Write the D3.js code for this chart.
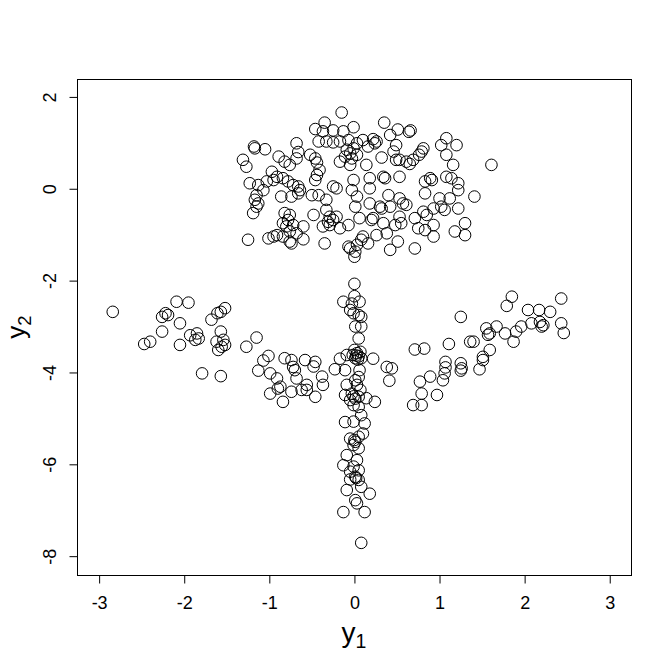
<!DOCTYPE html>
<html><head><meta charset="utf-8">
<script src="https://cdn.jsdelivr.net/npm/d3@7"></script>
<style>body{margin:0;background:#fff;} svg{display:block;}</style>
</head><body>
<script>
// ---- data ----
const topX = [-0.15,-0.35,-0.46,-0.37,-0.25,-0.13,-0.01,-0.42,-0.33,-0.25,-0.17,-0.07,0.03,-0.09,-0.01,-0.05,0.03,-0.11,-0.03,
 -1.18,-1.17,-1.05,-0.68,-0.66,-0.89,-0.82,-0.76,-0.68,-1.31,-1.27,-0.52,-0.46,-0.44,-0.41,-0.17,-0.05,-0.97,-0.91,-0.95,-1.03,
 -0.84,-0.78,-0.72,-0.66,-0.64,-0.44,-0.46,-0.25,-0.21,-0.01,-0.03,-1.23,-1.13,-1.07,-1.15,-1.17,-1.13,-1.15,-1.19,-0.86,-0.74,
 -0.66,-0.50,-0.42,-0.33,0.03,0.01,-0.82,-0.76,-0.78,-0.84,-0.72,-0.80,-0.76,-0.60,-0.68,-0.60,-0.74,-0.48,-0.33,-0.29,-0.31,
 -0.25,-0.21,-0.17,-0.37,-0.29,-0.07,0.06,-1.25,-1.01,-0.95,-0.91,-0.84,-0.76,-0.35,-0.07,0.03,0.01,0.08,0.00,-0.05,
 0.35,0.51,0.64,0.66,0.42,0.10,0.22,0.26,0.24,0.16,0.49,0.46,0.81,0.79,0.76,0.69,0.61,0.53,0.65,0.49,1.02,1.08,1.20,1.08,
 0.32,0.14,1.61,1.16,0.34,0.36,0.53,0.18,0.18,0.83,0.89,0.91,1.08,1.14,1.22,0.83,1.22,1.41,1.00,1.12,0.40,0.53,0.57,0.61,
 0.18,0.30,0.32,0.42,0.81,0.85,0.93,1.02,1.06,1.22,0.71,0.75,0.83,0.93,0.93,0.53,0.48,0.55,0.34,0.22,0.20,1.18,1.30,1.30,
 0.38,0.26,0.16,0.10,0.51,0.42,0.71];
const topY = [1.66,1.44,1.30,1.25,1.27,1.25,1.34,1.03,1.03,1.01,1.03,1.06,0.99,0.85,0.88,0.77,0.74,0.70,0.66,
 0.92,0.88,0.86,0.99,0.80,0.70,0.59,0.52,0.66,0.63,0.48,0.74,0.66,0.57,0.41,0.59,0.52,0.37,0.26,0.19,0.16,
 0.23,0.16,0.08,0.05,-0.03,0.30,0.19,0.05,0.01,0.19,-0.03,0.12,0.08,-0.03,-0.14,-0.24,-0.32,-0.39,-0.53,-0.17,-0.17,
 -0.10,-0.14,-0.14,-0.24,-0.17,-0.39,-0.53,-0.57,-0.68,-0.75,-0.79,-0.82,-0.93,-0.82,-0.97,-1.10,-1.19,-0.57,-0.46,-0.61,-0.72,
 -0.68,-0.61,-0.86,-0.82,-0.79,-0.79,-0.64,-1.11,-1.08,-1.04,-1.01,-1.04,-1.15,-1.19,-1.26,-1.22,-1.37,-1.11,-1.48,-1.30,
 1.44,1.29,1.24,1.27,1.17,1.06,1.08,1.03,0.99,0.92,0.95,0.81,0.88,0.81,0.74,0.63,0.59,0.63,0.54,0.63,0.95,1.10,0.95,0.74,
 0.68,0.52,0.52,0.52,0.26,0.23,0.26,0.23,0.01,0.16,0.23,0.19,0.26,0.23,0.12,-0.10,-0.03,-0.17,-0.21,-0.21,-0.14,-0.21,-0.32,-0.35,
 -0.32,-0.39,-0.43,-0.39,-0.50,-0.57,-0.43,-0.39,-0.46,-0.43,-0.64,-0.86,-0.90,-0.79,-1.04,-0.61,-0.79,-0.75,-0.75,-0.64,-0.68,-0.93,-0.75,-1.01,
 -0.97,-1.01,-1.19,-1.04,-1.15,-1.33,-1.30];

const stemX = [0.00,0.00,-0.13,-0.03,0.06,-0.05,-0.01,0.05,0.08,0.01,0.08,0.05,0.00,0.03,0.05,0.01,0.07,0.08,-0.02,0.04,0.02,
 -0.09,-0.17,0.22,0.38,0.44,0.41,-0.23,-0.11,0.06,0.01,0.03,0.05,0.07,-0.09,-0.11,-0.03,0.01,0.05,-0.05,-0.01,0.14,0.24,-0.01,0.05,
 -0.11,-0.01,0.08,0.12,0.10,-0.05,0.01,0.05,-0.01,0.05,0.00,-0.09,0.03,-0.13,-0.01,0.05,-0.05,0.01,0.05,-0.05,0.02,
 -0.09,0.08,0.18,0.01,0.03,-0.13,0.12,0.08];
const stemY = [-2.07,-2.34,-2.46,-2.50,-2.46,-2.64,-2.71,-2.75,-2.79,-3.00,-3.00,-3.26,-3.51,-3.58,-3.65,-3.69,-3.55,-3.69,-3.62,-3.72,-3.63,
 -3.62,-3.70,-3.70,-3.88,-3.91,-4.18,-3.93,-3.95,-3.95,-4.17,-4.27,-4.10,-4.38,-4.27,-4.49,-4.46,-4.57,-4.53,-4.60,-4.52,-4.56,-4.64,-4.71,-4.75,
 -5.08,-5.07,-4.93,-5.11,-5.33,-5.44,-5.51,-5.40,-5.58,-5.65,-5.47,-5.80,-5.91,-6.02,-6.05,-6.13,-6.16,-6.27,-6.34,-6.33,-6.30,
 -6.56,-6.49,-6.64,-6.78,-6.85,-7.04,-7.04,-7.71];

const leftX = [-2.84,-2.09,-1.95,-2.22,-2.19,-2.26,-2.05,-2.26,-2.40,-2.47,-2.05,-1.93,-1.85,-1.83,-1.87,-1.68,-1.61,-1.52,-1.57,
 -1.57,-1.54,-1.62,-1.60,-1.52,-1.56,-1.27,-1.15,-1.79,-1.57,-1.01,-1.07,-1.13,-0.99,-0.91,-0.87,-0.90,-0.99,-0.84,-0.82,-0.74,
 -0.72,-0.70,-0.68,-0.74,-0.62,-0.58,-0.46,-0.48,-0.38,-0.37,-0.56,-0.56,-0.46];
const leftY = [-2.68,-2.46,-2.48,-2.71,-2.75,-2.79,-2.93,-3.11,-3.33,-3.38,-3.40,-3.19,-3.15,-3.26,-3.29,-2.85,-2.71,-2.60,-2.68,
 -3.11,-3.29,-3.33,-3.51,-3.40,-3.44,-3.44,-3.24,-4.02,-4.08,-3.64,-3.74,-3.96,-4.02,-4.13,-4.31,-4.35,-4.46,-4.64,-3.69,-3.73,
 -3.88,-3.95,-4.13,-4.42,-4.38,-3.73,-3.77,-3.87,-4.09,-4.27,-4.27,-4.38,-4.53];

const rightX = [1.85,1.79,2.43,2.04,2.17,2.30,2.18,2.22,2.20,2.08,1.96,1.90,2.43,2.46,1.25,1.55,1.59,1.57,1.67,1.77,1.87,
 1.36,1.40,1.11,0.71,0.82,1.59,1.51,1.51,1.47,1.07,1.07,1.06,1.04,1.25,1.26,1.25,0.89,0.77,0.79,0.97,0.69,0.79];
const rightY = [-2.35,-2.55,-2.39,-2.64,-2.64,-2.68,-2.90,-2.97,-3.00,-2.93,-3.00,-3.11,-2.93,-3.14,-2.79,-3.04,-3.15,-3.18,-3.00,-3.15,-3.33,
 -3.33,-3.33,-3.38,-3.50,-3.48,-3.51,-3.66,-3.73,-3.93,-3.77,-3.89,-4.02,-4.17,-3.80,-3.91,-3.96,-4.09,-4.20,-4.46,-4.49,-4.71,-4.71];

const xTicks = [-3,-2,-1,0,1,2,3];
const yTicks = [2,0,-2,-4,-6,-8];

// ---- drawing ----
const W = 672, H = 672;
const L = 77, R = 631, T = 79, B = 575;
const svg = d3.select("body").append("svg").attr("width", W).attr("height", H);
const x = d3.scaleLinear().domain([-3.26, 3.25]).range([L, R]);
const y = d3.scaleLinear().domain([-8.41, 2.39]).range([B, T]);
const font = "'Liberation Sans', Arial, sans-serif";
const fmt = d => String(d); // plain hyphen-minus like the reference

const pts = [];
[[topX, topY], [stemX, stemY], [leftX, leftY], [rightX, rightY]].forEach(([xs, ys]) => {
  xs.forEach((v, i) => pts.push([v, ys[i]]));
});

svg.append("g").selectAll("circle").data(pts).join("circle")
  .attr("cx", d => x(d[0])).attr("cy", d => y(d[1])).attr("r", 5.8)
  .attr("fill", "none").attr("stroke", "#000").attr("stroke-width", 1);

svg.append("rect").attr("x", L + 0.5).attr("y", T + 0.5).attr("width", R - L).attr("height", B - T)
  .attr("fill", "none").attr("stroke", "#000").attr("stroke-width", 1);

const gx = svg.append("g").attr("transform", `translate(0,${B + 0.5})`)
  .call(d3.axisBottom(x).tickValues(xTicks).tickSize(8).tickFormat(fmt));
gx.select(".domain").remove();
gx.selectAll("line").attr("stroke", "#000");
gx.selectAll("text").attr("y", 33).attr("dy", 0).attr("fill", "#000")
  .style("font-family", font).style("font-size", "18px");

const gy = svg.append("g").attr("transform", `translate(${L + 0.5},0)`)
  .call(d3.axisLeft(y).tickValues(yTicks).tickSize(8).tickFormat(fmt));
gy.select(".domain").remove();
gy.selectAll("line").attr("stroke", "#000");
gy.selectAll("text").attr("x", 0).attr("y", -22).attr("dy", 0).attr("text-anchor", "middle")
  .attr("transform", "rotate(-90)").attr("fill", "#000")
  .style("font-family", font).style("font-size", "18px");

// axis titles with subscripts
const xl = svg.append("text").attr("x", (L + R) / 2).attr("y", 641.6).attr("text-anchor", "middle")
  .style("font-family", font);
xl.append("tspan").text("y").style("font-size", "28px");
xl.append("tspan").text("1").attr("dy", 6).style("font-size", "19.5px");

const yl = svg.append("text").attr("transform", `translate(25,${(T + B) / 2}) rotate(-90)`)
  .attr("text-anchor", "middle").style("font-family", font);
yl.append("tspan").text("y").style("font-size", "26px");
yl.append("tspan").text("2").attr("dy", 6).style("font-size", "18.5px");
</script>
</body></html>
